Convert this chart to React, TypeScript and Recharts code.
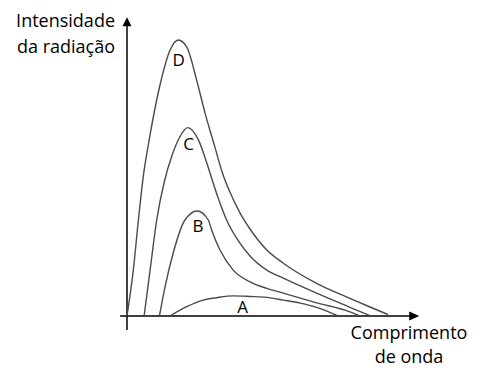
import React from 'react';
import { LineChart, Line, XAxis, YAxis, ReferenceLine, ReferenceDot, Customized } from 'recharts';

// comprimento de onda (u.a.) e intensidade (u.a.) de cada curva
const waveD = [0, 2.1, 3.8, 5.4, 7.1, 8.8, 11, 14.3, 17.1, 19.9, 23.2, 26, 29.3, 31.7, 34.3, 37.7, 41, 46.6, 52.1, 63.2, 74.3, 81, 87];
const intensityD = [0, 15.3, 32, 46.3, 57, 66.5, 77, 88.5, 92, 89.7, 78.7, 67.7, 56.3, 48, 41.3, 34.3, 29, 22, 17.6, 10.9, 5.9, 3, 0.5];

const waveC = [5.7, 7.7, 9.9, 12.5, 15, 17.5, 20.2, 23.8, 26.6, 28.5, 30.5, 33.2, 37.7, 41, 46.6, 52.1, 63.2, 74.3, 81];
const intensityC = [0, 15.3, 32, 45, 53.5, 59.5, 62.8, 58.7, 51, 45, 39, 32, 24.2, 20, 15.3, 12.6, 7.6, 2.9, 0.1];

const waveB = [10.8, 12.7, 15.4, 19.3, 23.4, 27.1, 28.2, 31, 35.4, 41, 46.6, 52.1, 63.2, 74.3, 77];
const intensityB = [0, 9.8, 21, 32, 35, 32, 28.7, 22, 15.3, 11.4, 9.2, 7.6, 4.4, 1.4, 0.3];

const waveA = [14.3, 19.9, 25.4, 29.9, 35.4, 41, 46.6, 52.1, 57.7, 63.2, 70];
const intensityA = [0, 3.1, 5.3, 6.1, 6.7, 6.5, 6.2, 5.3, 4.3, 2.9, 0.2];

const curveNames = ['D', 'C', 'B', 'A'];
const labelWave = [17.2, 20.5, 23.7, 38.5];
const labelIntensity = [85.2, 57.3, 30, 3.1];

const toPoints = (xs: number[], ys: number[]) => xs.map((x, i) => ({ x, y: ys[i] }));

const curves = [
  toPoints(waveD, intensityD),
  toPoints(waveC, intensityC),
  toPoints(waveB, intensityB),
  toPoints(waveA, intensityA),
];

const FONT = '"Open Sans", sans-serif';
const LINE = '#4a4a4a';

function ArrowRight(props: any) {
  const { cx, cy } = props;
  return <path d={`M${cx},${cy} L${cx - 10},${cy - 4.5} L${cx - 10},${cy + 4.5} Z`} fill="#000" />;
}

function ArrowUp(props: any) {
  const { cx, cy } = props;
  return <path d={`M${cx},${cy} L${cx - 4.5},${cy + 9} L${cx + 4.5},${cy + 9} Z`} fill="#000" />;
}

function AxisTitles() {
  return (
    <g fontFamily={FONT} fontSize={18} fill="#000">
      <text x={115} y={27} textAnchor="end">Intensidade</text>
      <text x={115} y={53} textAnchor="end">da radiação</text>
      <text x={409} y={339} textAnchor="middle">Comprimento</text>
      <text x={409} y={363} textAnchor="middle">de onda</text>
    </g>
  );
}

export default function App() {
  return (
    <div style={{ position: 'absolute', left: 0, top: 0, background: '#fff' }}>
      <LineChart width={485} height={368} margin={{ top: 10, right: 58, bottom: 34, left: 112 }}>
        <XAxis type="number" dataKey="x" domain={[-5, 100]} hide allowDataOverflow />
        <YAxis type="number" domain={[-6, 102]} hide allowDataOverflow />
        <ReferenceLine segment={[{ x: -2.3, y: 0 }, { x: 95, y: 0 }]} stroke="#000" strokeWidth={1.5} />
        <ReferenceLine segment={[{ x: 0, y: -4.7 }, { x: 0, y: 98 }]} stroke="#000" strokeWidth={1.5} />
        <ReferenceDot x={97.4} y={0} shape={ArrowRight} />
        <ReferenceDot x={0} y={99.6} shape={ArrowUp} />
        {curves.map((pts, i) => (
          <Line
            key={curveNames[i]}
            data={pts}
            dataKey="y"
            type="monotone"
            dot={false}
            stroke={LINE}
            strokeWidth={1.4}
            isAnimationActive={false}
          />
        ))}
        {curveNames.map((name, i) => (
          <ReferenceDot
            key={'lbl' + name}
            x={labelWave[i]}
            y={labelIntensity[i]}
            r={1}
            fill="none"
            stroke="none"
            label={{ value: name, position: 'center', fill: '#000', fontSize: 17, fontFamily: FONT }}
          />
        ))}
        <Customized component={AxisTitles} />
      </LineChart>
    </div>
  );
}
